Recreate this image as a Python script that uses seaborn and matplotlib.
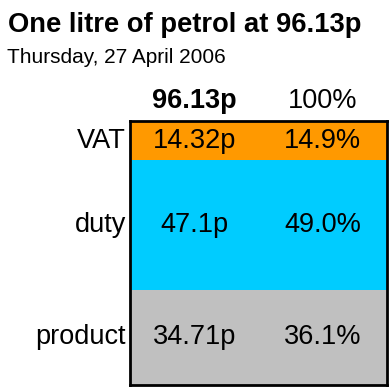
import matplotlib
matplotlib.use("Agg")
import matplotlib.pyplot as plt
import seaborn as sns

# data (top to bottom)
categories = ["VAT", "duty", "product"]
pence = [14.32, 47.1, 34.71]
percent = [14.9, 49.0, 36.1]
colors = ["#FF9900", "#00CCFF", "#C0C0C0"]
total_label = "96.13p"
total_pct = "100%"

sns.set_style("white")
plt.rcParams["font.family"] = ["Liberation Sans", "DejaVu Sans"]
plt.rcParams["text.color"] = "black"

fig = plt.figure(figsize=(3.92, 3.90), dpi=100)
ax = fig.add_axes([130 / 392, 5 / 390, 257 / 392, 264 / 390])

# stack from the bottom up: product, duty, VAT
bottom = 0
centers = {}
for cat, pct, col in reversed(list(zip(categories, percent, colors))):
    sns.barplot(x=[0], y=[pct], bottom=bottom, color=col, width=1.0,
                saturation=1, edgecolor="none", linewidth=0, ax=ax)
    centers[cat] = bottom + pct / 2
    bottom += pct

ax.set_xlim(-0.5, 0.5)
ax.set_ylim(0, 100)
ax.set_xticks([])
ax.set_yticks([])
ax.set_xlabel("")
ax.set_ylabel("")
for s in ax.spines.values():
    s.set_visible(True)
    s.set_color("black")
    s.set_linewidth(2)

fs = 19.5
for cat, p, pct in zip(categories, pence, percent):
    y = centers[cat]
    ax.text(-0.25, y, f"{p}p", ha="center", va="center", fontsize=fs)
    ax.text(0.25, y, f"{pct:.1f}%", ha="center", va="center", fontsize=fs)
    ax.text(-0.515, y, cat, ha="right", va="center", fontsize=fs)

ax.text(-0.25, 102.5, total_label, ha="center", va="bottom", fontsize=fs,
        fontweight="bold")
ax.text(0.25, 102.5, total_pct, ha="center", va="bottom", fontsize=fs)

fig.text(8 / 392, 1 - 12 / 390, "One litre of petrol at 96.13p", ha="left",
         va="top", fontsize=19.7, fontweight="bold")
fig.text(7 / 392, 1 - 48 / 390, "Thursday, 27 April 2006", ha="left",
         va="top", fontsize=15)

fig.savefig("out.png", dpi=100)
